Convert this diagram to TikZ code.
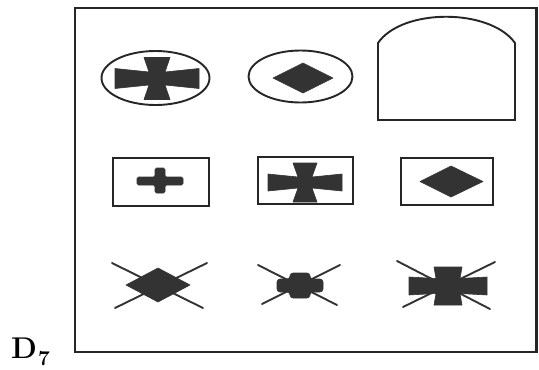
\documentclass[tikz,border=0pt]{standalone}
\usetikzlibrary{calc}
\tikzset{
  frame/.style={draw=black!85, line width=2.6pt},
  outl/.style={draw=black!85, line width=1.9pt},
  solid shape/.style={fill=black!80, draw=black!80, line width=0.6pt, line join=round},
  xline/.style={draw=black!80, line width=1.9pt, line cap=round},
}
% flared cross: center cx,cy ; hx,hy arm lengths ; a,b inner half thicknesses ; A,B outer half thicknesses
\newcommand\flcross[8]{%
  \path[solid shape, shift={(#1,#2)}]
    (#6,#5) -- (#3,#7) -- (#3,-#7) -- (#6,-#5) -- (#8,-#4) -- (-#8,-#4)
    -- (-#6,-#5) -- (-#3,-#7) -- (-#3,#7) -- (-#6,#5) -- (-#8,#4) -- (#8,#4) -- cycle;}
\begin{document}
\begin{tikzpicture}[x=1pt,y=-1pt]
\useasboundingbox (0,0) rectangle (539,370);
\fill[white] (0,0) rectangle (539,370);
% outer frame
\draw[frame] (75,8) rectangle (536.5,352);
% label
\node[anchor=base west, inner sep=0pt] (lbl) at (11,358)
  {\fontsize{30}{30}\selectfont\bfseries D\kern1pt\raisebox{-7pt}{\fontsize{21}{21}\selectfont 7}};
% ---- row 1 ----
\draw[outl] (155.5,78) ellipse [x radius=54, y radius=27];
\flcross{157}{78.5}{42}{21}{6.5}{8}{10}{13}
\draw[outl] (300.5,76.5) ellipse [x radius=52, y radius=26];
\path[solid shape] (273,78) -- (303,63) -- (333,78) -- (303,93) -- cycle;
\draw[outl] (378,120) -- (378,43) .. controls (402,8) and (490,8) .. (515,43) -- (515,120) -- cycle;
% ---- row 2 ----
\draw[outl] (113,158) rectangle (209,206);
\path[solid shape, rounded corners=1.5pt] (137,177) -- (155,177) -- (155,168) -- (165,168) -- (165,177) -- (183,177)
  -- (183,185) -- (165,185) -- (165,193) -- (155,193) -- (155,185) -- (137,185) -- cycle;
\draw[outl] (258,157) rectangle (353,204);
\flcross{305}{182.5}{37}{19.5}{5.5}{7}{8.5}{12}
\draw[outl] (401,158) rectangle (493,205);
\path[solid shape] (420,181.5) -- (451,166) -- (483,181.5) -- (451,197) -- cycle;
% ---- row 3 ----
\path[solid shape] (126,285) -- (158,268) -- (190,285) -- (158,302) -- cycle;
\draw[xline] (112,263) -- (203,308);
\draw[xline] (207,263) -- (115,308);
\path[solid shape, rounded corners=3pt] (277,279) -- (290,279) -- (290,273) -- (310,273) -- (310,279) -- (323,279)
  -- (323,292) -- (310,292) -- (310,298) -- (290,298) -- (290,292) -- (277,292) -- cycle;
\draw[xline] (258,265) -- (337,305);
\draw[xline] (340,265) -- (262,304);
\flcross{448}{286}{39}{19}{7.5}{12}{9}{14}
\draw[xline] (397,261) -- (490,309);
\draw[xline] (495,262) -- (403,307);
\end{tikzpicture}
\end{document}
